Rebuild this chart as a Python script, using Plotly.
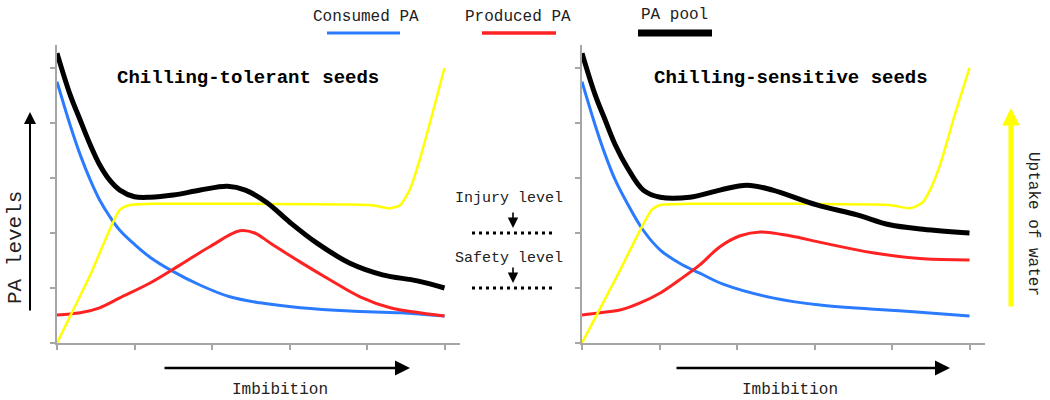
import plotly.graph_objects as go

# ---------------- data (x: imbibition units, y: PA level units) ----------------
# Left panel: chilling-tolerant seeds
tol_pool_x = [0, 0.17, 0.30, 0.43, 0.55, 0.68, 0.81, 1.0, 1.2, 1.5, 1.85, 2.2, 2.43, 2.71, 3.0, 3.35, 3.78, 4.2, 4.65, 5.0]
tol_pool_y = [5.27, 4.51, 4.05, 3.60, 3.24, 2.96, 2.78, 2.66, 2.65, 2.69, 2.78, 2.85, 2.78, 2.55, 2.20, 1.82, 1.45, 1.24, 1.13, 1.00]
tol_cons_x = [0, 0.17, 0.30, 0.43, 0.55, 0.68, 0.81, 1.01, 1.20, 1.46, 1.85, 2.23, 2.62, 3.14, 3.78, 4.43, 5.0]
tol_cons_y = [4.75, 3.96, 3.42, 2.96, 2.60, 2.30, 2.05, 1.78, 1.56, 1.33, 1.05, 0.84, 0.73, 0.64, 0.58, 0.55, 0.49]
tol_prod_x = [0, 0.30, 0.55, 0.81, 1.20, 1.59, 1.97, 2.36, 2.55, 2.75, 3.14, 3.52, 3.91, 4.30, 4.68, 5.0]
tol_prod_y = [0.51, 0.55, 0.64, 0.82, 1.09, 1.42, 1.75, 2.04, 2.00, 1.82, 1.47, 1.15, 0.84, 0.64, 0.55, 0.49]
tol_water_x = [0, 0.43, 0.81, 0.94, 1.2, 2.49, 4.04, 4.30, 4.43, 4.55, 4.68, 4.84, 5.0]
tol_water_y = [0, 1.24, 2.42, 2.51, 2.53, 2.53, 2.51, 2.45, 2.51, 2.78, 3.33, 4.15, 5.0]

# Right panel: chilling-sensitive seeds
sen_pool_x = [0, 0.17, 0.30, 0.43, 0.58, 0.79, 1.01, 1.39, 1.78, 2.13, 2.46, 3.03, 3.55, 3.97, 4.40, 5.0]
sen_pool_y = [5.27, 4.51, 4.05, 3.60, 3.20, 2.78, 2.65, 2.65, 2.78, 2.87, 2.78, 2.51, 2.33, 2.15, 2.07, 2.00]
sen_cons_x = [0, 0.17, 0.30, 0.43, 0.58, 0.79, 1.01, 1.26, 1.52, 1.82, 2.46, 3.07, 3.72, 4.36, 5.0]
sen_cons_y = [4.75, 3.96, 3.42, 2.96, 2.55, 2.05, 1.69, 1.45, 1.27, 1.07, 0.82, 0.69, 0.62, 0.56, 0.49]
sen_prod_x = [0, 0.23, 0.49, 0.75, 1.01, 1.26, 1.52, 1.78, 2.04, 2.30, 2.68, 3.11, 3.75, 4.40, 5.0]
sen_prod_y = [0.51, 0.55, 0.60, 0.73, 0.91, 1.15, 1.42, 1.75, 1.95, 2.02, 1.95, 1.82, 1.64, 1.53, 1.51]
sen_water_x = [0, 0.45, 0.90, 1.01, 1.39, 2.81, 3.97, 4.23, 4.39, 4.49, 4.62, 4.81, 5.0]
sen_water_y = [0, 1.21, 2.42, 2.51, 2.53, 2.53, 2.51, 2.45, 2.55, 2.78, 3.24, 4.15, 5.0]

tick_vals = [0, 1, 2, 3, 4, 5]
legend_labels = ["Consumed PA", "Produced PA", "PA pool"]
panel_titles = ["Chilling-tolerant seeds", "Chilling-sensitive seeds"]
level_labels = ["Injury level", "Safety level"]
level_values = [2, 1]

# ---------------- styling ----------------
W, H = 1050, 400
FONT = "Liberation Mono"
BLUE = "#2a7bff"
RED = "#ff2222"
YELLOW = "#ffff00"
BLACK = "#000000"
AXIS = "#a6a6a6"
TXT = "#222222"

def px(x):
    return x / W

def py(y):
    return (H - y) / H

fig = go.Figure()

panels = [
    ("x", "y", tol_cons_x, tol_cons_y, tol_prod_x, tol_prod_y, tol_water_x, tol_water_y, tol_pool_x, tol_pool_y),
    ("x2", "y2", sen_cons_x, sen_cons_y, sen_prod_x, sen_prod_y, sen_water_x, sen_water_y, sen_pool_x, sen_pool_y),
]
for xa, ya, cx, cy, prx, pry, wx, wy, plx, ply in panels:
    fig.add_trace(go.Scatter(x=cx, y=cy, xaxis=xa, yaxis=ya, mode="lines",
                             line=dict(color=BLUE, width=3, shape="spline", smoothing=1.0), showlegend=False))
    fig.add_trace(go.Scatter(x=prx, y=pry, xaxis=xa, yaxis=ya, mode="lines",
                             line=dict(color=RED, width=3, shape="spline", smoothing=1.0), showlegend=False))
    fig.add_trace(go.Scatter(x=wx, y=wy, xaxis=xa, yaxis=ya, mode="lines",
                             line=dict(color=YELLOW, width=2.5, shape="spline", smoothing=0.6), showlegend=False))
    fig.add_trace(go.Scatter(x=plx, y=ply, xaxis=xa, yaxis=ya, mode="lines",
                             line=dict(color=BLACK, width=5, shape="spline", smoothing=1.0), showlegend=False))

xrange_ = [0, 5.2]
yrange_ = [0, 5.418]
ydom = [py(343), py(45)]
axis_common = dict(showline=True, linecolor=AXIS, linewidth=2, ticks="outside", ticklen=5,
                   tickcolor=AXIS, tickwidth=1.5, showticklabels=False, showgrid=False,
                   zeroline=False, tickvals=tick_vals, fixedrange=True)
fig.update_layout(
    width=W, height=H, margin=dict(l=0, r=0, t=0, b=0),
    paper_bgcolor="white", plot_bgcolor="white",
    xaxis=dict(domain=[px(57), px(460)], range=xrange_, anchor="y", **axis_common),
    yaxis=dict(domain=ydom, range=yrange_, anchor="x", **axis_common),
    xaxis2=dict(domain=[px(582), px(985)], range=xrange_, anchor="y2", **axis_common),
    yaxis2=dict(domain=ydom, range=yrange_, anchor="x2", **axis_common),
    showlegend=False, hovermode=False,
)

shapes = []
annotations = []

# legend
leg_colors = [BLUE, RED, BLACK]
leg_widths = [3, 3.5, 7]
leg_text_x = [366, 518, 674]
leg_text_y = [17, 17, 15]
leg_line = [(327, 400), (482, 556), (638, 712)]
for lab, c, w, tx, ty, (l0, l1) in zip(legend_labels, leg_colors, leg_widths, leg_text_x, leg_text_y, leg_line):
    shapes.append(dict(type="line", xref="paper", yref="paper", x0=px(l0), x1=px(l1), y0=py(33), y1=py(33),
                       line=dict(color=c, width=w)))
    annotations.append(dict(text=lab, x=px(tx), y=py(ty), xref="paper", yref="paper", showarrow=False,
                            font=dict(family=FONT, size=16, color=TXT), xanchor="center", yanchor="middle"))

# panel titles
for t, cx in zip(panel_titles, [248, 791]):
    annotations.append(dict(text="<b>" + t + "</b>", x=px(cx), y=py(78), xref="paper", yref="paper",
                            showarrow=False, font=dict(family=FONT, size=19, color=BLACK),
                            xanchor="center", yanchor="middle"))

# injury / safety levels (dotted lines at PA level values of left axis scale)
for lab, lv, ty in zip(level_labels, level_values, [198, 258]):
    annotations.append(dict(text=lab, x=px(509), y=py(ty), xref="paper", yref="paper", showarrow=False,
                            font=dict(family=FONT, size=15, color=TXT), xanchor="center", yanchor="middle"))
    ypix = 343 - 55 * lv
    shapes.append(dict(type="line", xref="paper", yref="paper", x0=px(472), x1=px(555),
                       y0=py(ypix), y1=py(ypix), line=dict(color=BLACK, width=3, dash="3px,4px")))
    annotations.append(dict(text="", x=px(513), y=py(ypix - 5), xref="paper", yref="paper", showarrow=True,
                            ax=0, ay=-17, arrowhead=2, arrowsize=1.3, arrowwidth=1.6, arrowcolor=BLACK))

# PA levels axis arrow
annotations.append(dict(text="", x=px(30), y=py(112), xref="paper", yref="paper", showarrow=True,
                        ax=0, ay=200, arrowhead=2, arrowsize=1.2, arrowwidth=2, arrowcolor=BLACK))
annotations.append(dict(text="PA levels", x=px(15), y=py(248), xref="paper", yref="paper", showarrow=False,
                        textangle=-90, font=dict(family=FONT, size=21, color=TXT),
                        xanchor="center", yanchor="middle"))

# Imbibition arrows
for x0, x1, tx in [(163, 410, 280), (675, 950, 790)]:
    annotations.append(dict(text="", x=px(x1), y=py(368), xref="paper", yref="paper", showarrow=True,
                            ax=-(x1 - x0), ay=0, arrowhead=2, arrowsize=1.2, arrowwidth=2.5, arrowcolor=BLACK))
    annotations.append(dict(text="Imbibition", x=px(tx), y=py(390), xref="paper", yref="paper",
                            showarrow=False, font=dict(family=FONT, size=16, color=TXT),
                            xanchor="center", yanchor="middle"))

# Uptake of water arrow
annotations.append(dict(text="", x=px(1011), y=py(108), xref="paper", yref="paper", showarrow=True,
                        ax=0, ay=200, arrowhead=2, arrowsize=0.7, arrowwidth=5, arrowcolor=YELLOW))
annotations.append(dict(text="Uptake of water", x=px(1033), y=py(224), xref="paper", yref="paper",
                        showarrow=False, textangle=90, font=dict(family=FONT, size=16, color=TXT),
                        xanchor="center", yanchor="middle"))

fig.update_layout(shapes=shapes, annotations=annotations)
fig.write_html("out.html", config={"displayModeBar": False},
               post_script="document.body.style.margin='0px';")
